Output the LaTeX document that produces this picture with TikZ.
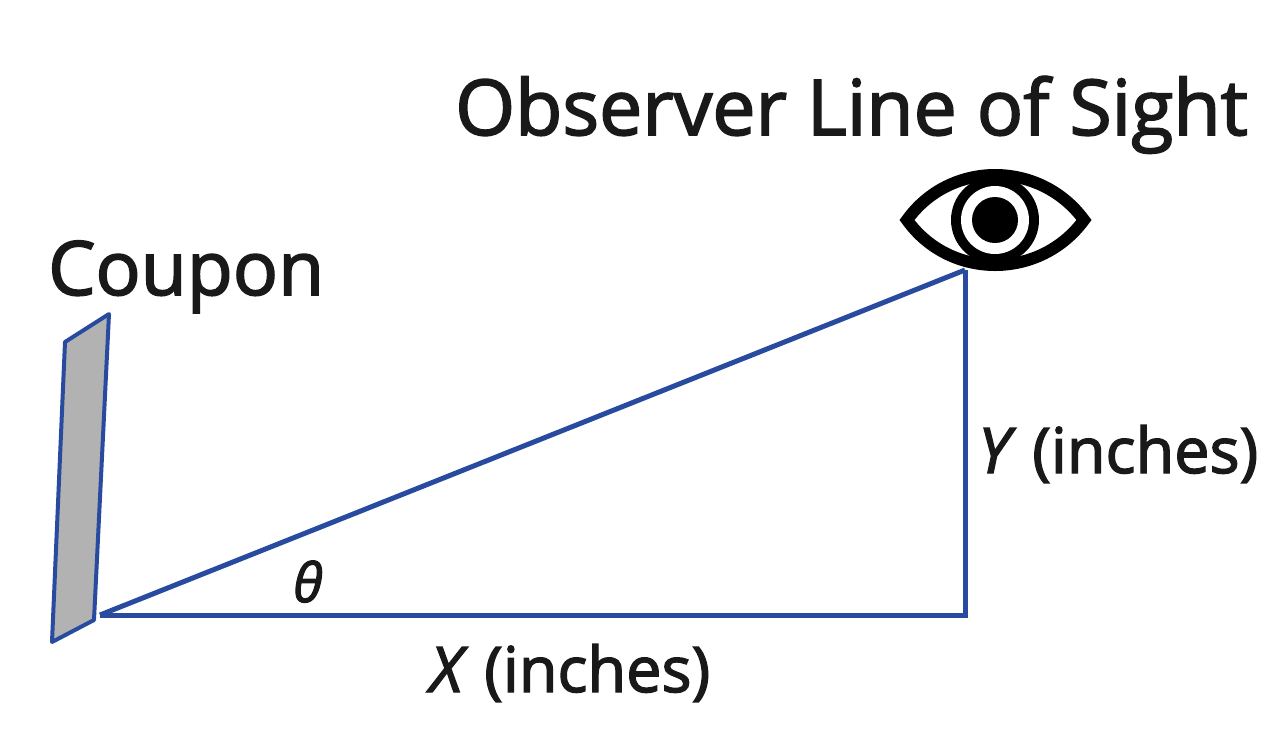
\documentclass[tikz,border=0pt]{standalone}
\usepackage{fontspec}
\setmainfont{Open Sans}
\newfontfamily\semi{Open Sans}[FakeBold=2.2]
\definecolor{lineblue}{RGB}{40,75,160}
\begin{document}
\begin{tikzpicture}[x=1pt,y=-1pt,
  edge/.style={draw=lineblue,line width=5pt},
  lbl/.style={inner sep=0pt,text=black!90}]
\useasboundingbox (0,0) rectangle (1280,748);
% coupon
\draw[lineblue,line width=4pt,fill=gray!60,line join=round] (65,342) -- (109,314) -- (94,620) -- (52,642) -- cycle;
\coordinate (A) at (100,615);
\coordinate (B) at (965,615);
\coordinate (C) at (965,270);
\draw[edge] (A) -- (B) -- (C);
\draw[edge] (A) -- (C);
% eye
\draw[line width=12pt,black] (907,220) .. controls (950,160) and (1040,160) .. (1084,220) .. controls (1040,280) and (950,280) .. cycle;
\fill[black] (995,220) circle (44);
\fill[white] (995,220) circle (34);
\fill[black] (995,220) circle (23);
\node[lbl,anchor=base west] (obs) at (455,135) {\fontsize{77}{80}\semi Observer Line of Sight};
\node[lbl,anchor=base west] (cp) at (48,295) {\fontsize{75}{80}\semi Coupon};
\node[lbl,anchor=base west] (y) at (978,473) {\fontsize{63}{70}\semi\textit{Y} (inches)};
\node[lbl,anchor=base] (x) at (570,692) {\fontsize{63}{70}\semi\textit{X} (inches)};
\node[lbl,anchor=base] (t) at (308,602) {\fontsize{54}{60}\semi\itshape θ};
\end{tikzpicture}
\end{document}
